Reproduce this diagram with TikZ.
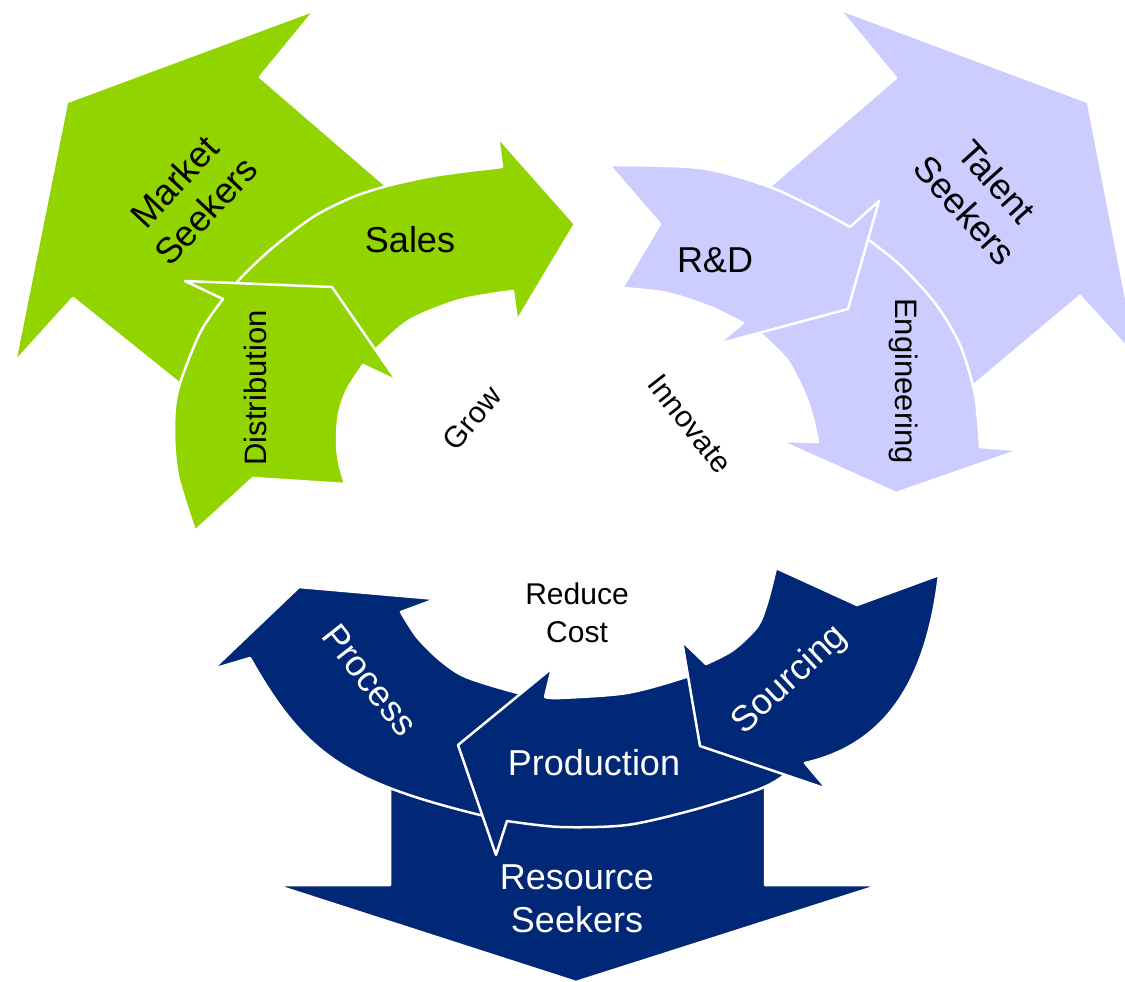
\documentclass[tikz,border=0pt]{standalone}
\usepackage{fontspec}
\setmainfont{Liberation Sans}
\definecolor{mgreen}{RGB}{146,212,0}
\definecolor{lav}{RGB}{204,204,255}
\definecolor{navy}{RGB}{0,40,118}
\begin{document}
\begin{tikzpicture}[x=1pt,y=-1pt,
  shp/.style={draw=white,line width=2.5pt,line join=round},
  big/.style={font=\fontsize{36}{43}\selectfont,inner sep=0pt},
  mid/.style={font=\fontsize{31}{38}\selectfont,inner sep=0pt},
  sml/.style={font=\fontsize{30}{38}\selectfont,inner sep=0pt}]
\useasboundingbox (0,0) rectangle (1125,982);
\clip (0,0) rectangle (1125,982);
% ---------- green group ----------
\path[shp,fill=mgreen] (67,102) -- (315,10) -- (260,77) -- (420,215) -- (215,412) -- (73,298) -- (15,362) -- cycle;
\path[shp,fill=mgreen] plot[smooth] coordinates {(228,297) (237,282) (270,250) (313,217) (353,197) (387,186) (427,177) (460,172) (502,167)}
  -- (498,137) -- (575,224) -- (517,321) -- (513,291)
  -- plot[smooth] coordinates {(513,291) (460,300) (410,320) (377,348) (358,364)} -- cycle;
\path[shp,fill=mgreen] (185,281) -- (332,287) -- (397,381) -- (363,365)
  -- plot[smooth] coordinates {(363,365) (347,390) (339,414) (337,441) (339,462) (345,484)}
  -- (253,478) -- (195,531)
  -- plot[smooth] coordinates {(195,531) (178,476) (174,431) (178,390) (200,333) (223,299)} -- cycle;
% ---------- lavender group ----------
\path[shp,fill=lav] (1088,102) -- (1138,360) -- (1080,296) -- (950,405) -- (740,212) -- (896,78) -- (839,9) -- cycle;
\path[shp,fill=lav] plot[smooth] coordinates {(855,228) (869,240) (900,265) (935,303) (960,345) (975,395) (980,447)}
  -- (1020,450) -- (896,493) -- (780,441) -- (818,442)
  -- plot[smooth] coordinates {(818,442) (812,415) (803,390) (787,360) (762,335) (752,326)} -- cycle;
\path[shp,fill=lav] plot[smooth] coordinates {(609,165) (700,168) (767,186) (813,207) (850,227)}
  -- (879,201) -- (848,309) -- (718,344) -- (743,323)
  -- plot[smooth] coordinates {(743,323) (710,307) (667,293) (622,288)} -- (660,224) -- cycle;
% ---------- navy group ----------
\path[shp,fill=navy] (390,770) -- (390,885) -- (275,885) -- (576,982) -- (880,885) -- (765,885) -- (765,770) -- cycle;
\path[shp,fill=navy] (213,669) -- (299,587) -- (436,599) -- (401,612)
  -- plot[smooth] coordinates {(401,612) (417,637) (440,660) (466,677) (518,693) (566,703)}
  -- (552,822) -- (480,815) .. controls (346,782) and (304,754) .. (250,658) -- cycle;
\path[shp,fill=navy] (552,668) -- (545,697)
  -- plot[smooth] coordinates {(545,697) (560,698) (627,693) (686,677) (722,662)}
  -- (798,762)
  -- plot[smooth] coordinates {(798,762) (782,777) (757,790) (693,810) (627,825) (560,827) (507,821)}
  -- (496,855) -- (458,745) -- cycle;
\path[shp,fill=navy] (776,568) -- (857,605) -- (939,575)
  .. controls (927,677) and (889,744) .. (805,763)
  -- (827,789) -- (700,746) -- (682,641) -- (706,664)
  -- plot[smooth] coordinates {(706,664) (733,650) (757,627) (767,603) (776,568)} -- cycle;
% ---------- labels ----------
\node[big,align=center,rotate=47] (market) at (190,196) {Market\\Seekers};
\node[big,anchor=base] (sales) at (410,252) {Sales};
\node[mid,rotate=90] (distr) at (255,388) {Distribution};
\node[sml,rotate=50] (grow) at (472,418) {Grow};
\node[sml,rotate=-52] (innov) at (690,424) {Innovate};
\node[big,anchor=base] (rd) at (715,272) {R\&D};
\node[big,align=center,rotate=-48] (talent) at (981,196) {Talent\\Seekers};
\node[mid,rotate=-90] (eng) at (904,381) {Engineering};
\node[sml,align=center] (reduce) at (577,613) {Reduce\\Cost};
\node[big,text=white,rotate=-52] (process) at (370,680) {Process};
\node[big,text=white,anchor=base] (prod) at (594,775) {Production};
\node[big,text=white,rotate=43] (sourcing) at (790,680) {Sourcing};
\node[big,text=white,align=center] (resource) at (577,899) {Resource\\Seekers};
\end{tikzpicture}
\end{document}
